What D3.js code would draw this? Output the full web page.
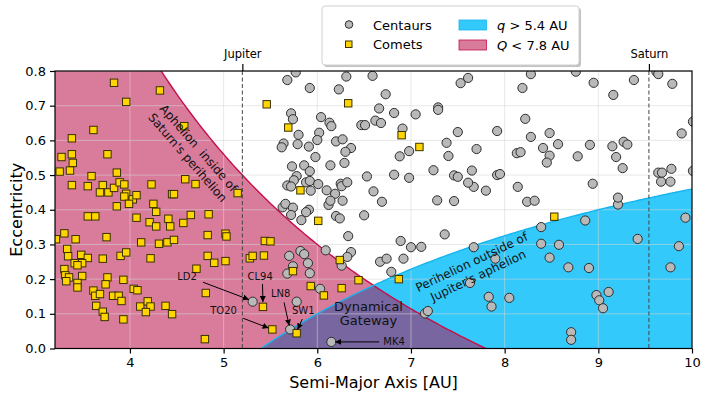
<!DOCTYPE html>
<html><head><meta charset="utf-8">
<script src="https://cdn.jsdelivr.net/npm/d3@7/dist/d3.min.js"></script>
<style>
html,body{margin:0;padding:0;background:#fff;}
text{font-family:"DejaVu Sans",sans-serif;white-space:pre;}
</style></head>
<body><svg id="c" width="707" height="397"></svg>
<script>
// ---------- data ----------
const xTicks = [4,5,6,7,8,9,10];
const yTicks = [0.0,0.1,0.2,0.3,0.4,0.5,0.6,0.7,0.8];
const planetNames = ["Jupiter","Saturn"];
const planetA = [5.2, 9.54];
const qLimit = 5.4;   // perihelion threshold (AU)
const QLimit = 7.8;   // aphelion threshold (AU)

const comets = [
[3.83,0.766],[4.32,0.744],[3.96,0.711],[3.61,0.630],[3.38,0.606],[4.58,0.641],[3.27,0.552],[3.38,0.560],
[3.76,0.560],[3.39,0.535],[3.25,0.510],[3.36,0.513],[3.59,0.497],[3.86,0.507],[3.38,0.471],[3.55,0.468],
[3.71,0.471],[3.68,0.450],[3.77,0.450],[3.83,0.463],[3.89,0.479],[3.94,0.473],[3.96,0.446],[3.94,0.438],
[4.03,0.430],[4.07,0.442],[3.99,0.417],[4.23,0.473],[4.25,0.417],[3.86,0.410],[4.28,0.394],[4.59,0.488],
[4.70,0.474],[4.45,0.445],[4.47,0.445],[5.15,0.448],[5.46,0.704],[3.55,0.381],[3.63,0.381],[4.07,0.377],
[4.21,0.364],[4.41,0.374],[4.28,0.352],[4.43,0.352],[4.57,0.362],[4.65,0.385],[4.84,0.387],[3.21,0.315],
[3.30,0.332],[3.42,0.315],[3.75,0.321],[4.12,0.306],[4.31,0.302],[4.40,0.306],[4.47,0.313],[4.83,0.327],
[5.02,0.331],[5.03,0.323],[5.44,0.310],[5.50,0.309],[3.33,0.287],[3.34,0.266],[3.48,0.270],[3.55,0.261],
[3.71,0.259],[3.90,0.267],[3.96,0.277],[4.22,0.260],[4.83,0.267],[4.90,0.247],[5.02,0.252],[5.28,0.260],
[5.31,0.267],[5.43,0.268],[3.30,0.229],[3.41,0.246],[3.49,0.246],[3.44,0.240],[3.31,0.211],[3.35,0.205],
[3.32,0.194],[3.49,0.209],[3.44,0.189],[3.44,0.176],[3.76,0.205],[3.74,0.185],[3.93,0.198],[4.71,0.230],
[3.61,0.167],[3.63,0.152],[3.68,0.157],[3.82,0.152],[3.88,0.152],[3.91,0.137],[4.04,0.172],[4.08,0.168],
[4.81,0.160],[3.64,0.123],[3.71,0.106],[3.73,0.091],[3.93,0.084],[4.11,0.121],[4.19,0.136],[4.22,0.121],
[4.17,0.105],[4.38,0.123],[4.45,0.099],[4.80,0.027],[5.42,0.120],[5.52,0.055],[5.78,0.044],[6.01,0.368],
[6.24,0.255],[5.74,0.223],[5.93,0.180],[6.07,0.153],[6.26,0.174],[6.44,0.197],[6.87,0.200],[8.53,0.380],
[6.33,0.707],[5.69,0.637],[6.90,0.615],[7.09,0.581],[5.82,0.456]
];

const centaurs = [
[5.31,0.135],[5.71,0.055],[5.78,0.135],[6.15,0.019],[5.63,0.407],[5.66,0.417],[5.74,0.406],[5.91,0.400],
[5.88,0.393],[5.72,0.385],[5.83,0.370],[6.12,0.414],[6.20,0.382],[6.24,0.375],[6.50,0.384],[6.33,0.324],
[6.89,0.310],[7.00,0.292],[7.11,0.293],[7.36,0.329],[7.67,0.292],[5.82,0.281],[5.86,0.272],[5.70,0.267],
[6.09,0.283],[6.36,0.278],[6.32,0.264],[6.26,0.239],[5.90,0.246],[5.74,0.237],[5.68,0.216],[5.92,0.217],
[6.67,0.250],[6.74,0.259],[6.92,0.259],[6.79,0.221],[6.03,0.172],[7.15,0.101],[7.18,0.108],[7.63,0.189],
[9.21,0.415],[8.86,0.369],[8.39,0.350],[9.93,0.377],[9.42,0.316],[8.39,0.302],[8.58,0.299],[8.48,0.262],
[7.90,0.259],[8.68,0.234],[8.90,0.232],[9.86,0.295],[9.77,0.234],[7.83,0.149],[7.86,0.121],[8.05,0.146],
[8.98,0.154],[9.01,0.139],[9.05,0.116],[9.11,0.163],[8.71,0.047],[8.71,0.025],[9.21,0.435],[6.60,0.453],
[6.69,0.423],[7.28,0.427],[7.46,0.425],[8.24,0.423],[8.32,0.426],[7.80,0.455],[8.14,0.466],[7.67,0.466],
[7.61,0.478],[8.94,0.475],[9.67,0.481],[9.77,0.481],[9.64,0.507],[9.68,0.507],[9.78,0.518],[10.01,0.512],
[10.01,0.654],[7.92,0.500],[7.95,0.503],[7.65,0.513],[7.46,0.499],[7.50,0.495],[7.24,0.514],[6.98,0.492],
[6.82,0.501],[6.53,0.496],[9.26,0.520],[9.19,0.552],[9.15,0.583],[9.27,0.596],[9.31,0.588],[8.91,0.587],
[8.78,0.554],[8.57,0.589],[8.41,0.578],[8.48,0.556],[8.45,0.536],[8.13,0.563],[8.17,0.566],[8.28,0.610],
[8.48,0.621],[8.22,0.662],[7.92,0.627],[7.70,0.575],[7.40,0.555],[7.38,0.593],[6.98,0.569],[6.88,0.554],
[6.91,0.634],[7.50,0.624],[7.05,0.675],[6.82,0.679],[6.66,0.692],[7.29,0.695],[7.29,0.688],[6.47,0.644],
[6.51,0.644],[6.62,0.657],[6.68,0.650],[6.73,0.733],[6.59,0.786],[6.31,0.784],[6.23,0.747],[5.92,0.751],
[5.77,0.796],[5.68,0.774],[7.53,0.765],[7.61,0.780],[8.28,0.791],[8.19,0.751],[8.76,0.798],[8.95,0.766],
[9.16,0.731],[9.38,0.774],[9.62,0.798],[9.64,0.791],[9.79,0.763],[9.89,0.620],[5.72,0.678],[5.74,0.661],
[6.04,0.667],[6.13,0.651],[6.15,0.641],[6.02,0.622],[5.80,0.616],[6.00,0.601],[5.64,0.591],[5.62,0.580],
[5.79,0.589],[5.91,0.582],[6.20,0.597],[6.27,0.603],[6.36,0.578],[6.30,0.567],[5.98,0.552],[5.73,0.525],
[5.86,0.528],[5.92,0.511],[6.14,0.528],[6.29,0.535],[5.78,0.497],[5.75,0.485],[5.68,0.470],[5.72,0.467],
[5.88,0.479],[5.92,0.483],[6.01,0.474],[5.93,0.455],[6.10,0.456],[6.19,0.446],[6.25,0.475],[6.26,0.468],
[6.32,0.479],[6.14,0.426],[6.27,0.426]
];

// annotation labels: name, label position (a,e), arrow start (a,e), arrow end (a,e)
const annNames = ["LD2","CL94","TO20","LN8","SW1","MK4"];
const annText  = [[4.61,0.209],[5.39,0.209],[5.00,0.109],[5.61,0.159],[5.85,0.109],[6.82,0.019]];
const annFrom  = [[4.78,0.191],[5.415,0.186],[5.21,0.087],[5.645,0.133],[5.84,0.085],[6.66,0.019]];
const annTo    = [[5.27,0.141],[5.42,0.134],[5.48,0.059],[5.70,0.066],[5.79,0.055],[6.19,0.019]];

// ---------- layout ----------
const L=55,R=692,T=71,B=348.5;
const svg=d3.select("#c");
const x=d3.scaleLinear().domain([3.2,10]).range([L,R]);
const y=d3.scaleLinear().domain([0,0.8]).range([B,T]);

const PINK="#d97c9b", BLUE="#33c9fb", PURPLE="#77669f";
const PINK_EDGE="#c4104a", BLUE_EDGE="#16b4ef";

const defs=svg.append("defs");
defs.append("clipPath").attr("id","plotclip")
  .append("rect").attr("x",L).attr("y",T).attr("width",R-L).attr("height",B-T);
defs.append("marker").attr("id","arr").attr("viewBox","0 0 10 10")
  .attr("refX",10).attr("refY",5).attr("markerWidth",6).attr("markerHeight",6)
  .attr("orient","auto").attr("markerUnits","userSpaceOnUse")
  .append("path").attr("d","M0,0L10,5L0,10z").attr("fill","#000");

const g=svg.append("g").attr("clip-path","url(#plotclip)");

// regions
const Qcurve=a=>QLimit/a-1, qcurve=a=>1-qLimit/a;
const aGrid=d3.range(3.2,10.0001,0.02);
const pinkPts=aGrid.filter(a=>a<=QLimit).map(a=>[a,Math.min(0.85,Qcurve(a))]).concat([[QLimit,0]]);
const area=d3.area().x(d=>x(d[0])).y0(y(0)).y1(d=>y(d[1]));
g.append("path").datum(pinkPts).attr("d",area).attr("fill",PINK);
const bluePts=[[qLimit,0]].concat(aGrid.filter(a=>a>=qLimit).map(a=>[a,qcurve(a)]));
g.append("path").datum(bluePts).attr("d",area).attr("fill",BLUE);
const ovPts=[[qLimit,0]].concat(aGrid.filter(a=>a>=qLimit&&a<=QLimit).map(a=>[a,Math.min(qcurve(a),Qcurve(a))])).concat([[QLimit,0]]);
g.append("path").datum(ovPts).attr("d",area).attr("fill",PURPLE);

// grid
const grid=g.append("g").attr("stroke","#d6d6d6").attr("stroke-opacity",0.55).attr("stroke-width",1);
xTicks.forEach(t=>grid.append("line").attr("x1",x(t)).attr("x2",x(t)).attr("y1",T).attr("y2",B));
yTicks.forEach(t=>grid.append("line").attr("y1",y(t)).attr("y2",y(t)).attr("x1",L).attr("x2",R));

// boundary lines
const line=d3.line().x(d=>x(d[0])).y(d=>y(d[1]));
g.append("path").datum(aGrid.filter(a=>a<=QLimit+0.001).map(a=>[a,Qcurve(a)])).attr("d",line)
  .attr("fill","none").attr("stroke",PINK_EDGE).attr("stroke-width",1.4);
g.append("path").datum(aGrid.filter(a=>a>=qLimit).map(a=>[a,qcurve(a)])).attr("d",line)
  .attr("fill","none").attr("stroke",BLUE_EDGE).attr("stroke-width",1.4);

// planet dashed lines
planetA.forEach(a=>{
  g.append("line").attr("x1",x(a)).attr("x2",x(a)).attr("y1",T).attr("y2",B)
   .attr("stroke","#444").attr("stroke-width",1).attr("stroke-dasharray","4,2.5");
});

// points
g.append("g").selectAll("circle").data(centaurs).join("circle")
  .attr("cx",d=>x(d[0])).attr("cy",d=>y(d[1])).attr("r",4.6)
  .attr("fill","#b9b9b9").attr("stroke","#2e2e2e").attr("stroke-width",1);
const s=7.4;
g.append("g").selectAll("rect").data(comets).join("rect")
  .attr("x",d=>x(d[0])-s/2).attr("y",d=>y(d[1])-s/2).attr("width",s).attr("height",s)
  .attr("fill","#ffd500").attr("stroke","#3a3000").attr("stroke-width",1);

// region texts
const tg=svg.append("g");
function twoLine(cx,cy,rot,l1,l2,fs,lh){
  const t=tg.append("g").attr("transform",`translate(${cx},${cy}) rotate(${rot})`);
  t.append("text").attr("x",0).attr("y",-lh/2).attr("text-anchor","middle").attr("dominant-baseline","central")
   .attr("font-size",fs).attr("fill","#111").text(l1);
  t.append("text").attr("x",0).attr("y",lh/2).attr("text-anchor","middle").attr("dominant-baseline","central")
   .attr("font-size",fs).attr("fill","#111").text(l2);
}
twoLine(193,153,49,"Aphelion  inside of","Saturn's perihelion",12,14.5);
twoLine(475,269,-25.5,"Perihelion outside of","Jupiter's aphelion",12,15);
twoLine(368.5,313.5,0,"Dynamical","Gateway",13,14.5);

// annotations
annNames.forEach((n,i)=>{
  svg.append("line").attr("x1",x(annFrom[i][0])).attr("y1",y(annFrom[i][1]))
    .attr("x2",x(annTo[i][0])).attr("y2",y(annTo[i][1]))
    .attr("stroke","#000").attr("stroke-width",1).attr("marker-end","url(#arr)");
  svg.append("text").attr("x",x(annText[i][0])).attr("y",y(annText[i][1]))
    .attr("text-anchor","middle").attr("dominant-baseline","central")
    .attr("font-size",10).attr("fill","#111").text(n);
});

// frame
svg.append("rect").attr("x",L).attr("y",T).attr("width",R-L).attr("height",B-T)
  .attr("fill","none").attr("stroke","#000").attr("stroke-width",1.2);

// axes
const xAxis=d3.axisBottom(x).tickValues(xTicks).tickFormat(d3.format("d")).tickSize(5).tickPadding(4);
const ax=svg.append("g").attr("transform",`translate(0,${B})`).call(xAxis);
ax.select(".domain").remove();
ax.selectAll("line").attr("stroke","#000").attr("stroke-width",1.2);
ax.selectAll("text").attr("font-size",13).attr("fill","#000").attr("font-family","DejaVu Sans");
const yAxis=d3.axisLeft(y).tickValues(yTicks).tickFormat(d3.format(".1f")).tickSize(5).tickPadding(4);
const ay=svg.append("g").attr("transform",`translate(${L},0)`).call(yAxis);
ay.select(".domain").remove();
ay.selectAll("line").attr("stroke","#000").attr("stroke-width",1.2);
ay.selectAll("text").attr("font-size",13).attr("fill","#000").attr("font-family","DejaVu Sans");

// top planet ticks
const topAxis=d3.axisTop(x).tickValues(planetA).tickFormat((d,i)=>planetNames[i]).tickSize(7).tickPadding(6);
const at=svg.append("g").attr("transform",`translate(0,${T})`).call(topAxis);
at.select(".domain").remove();
at.selectAll("line").attr("stroke","#000").attr("stroke-width",1.2);
at.selectAll("text").attr("font-size",11.5).attr("fill","#000").attr("font-family","DejaVu Sans");

// axis titles
svg.append("text").attr("x",(L+R)/2).attr("y",388).attr("text-anchor","middle")
  .attr("font-size",16).attr("fill","#000").text("Semi-Major Axis [AU]");
svg.append("text").attr("transform",`translate(16,${(T+B)/2}) rotate(-90)`).attr("text-anchor","middle")
  .attr("dominant-baseline","central").attr("font-size",16).attr("fill","#000").text("Eccentricity");

// legend
const lg=svg.append("g");
lg.append("rect").attr("x",324).attr("y",8).attr("width",257).attr("height",59).attr("rx",3)
  .attr("fill","#9a9a9a").attr("opacity",0.6);
lg.append("rect").attr("x",322).attr("y",6).attr("width",257).attr("height",59).attr("rx",3)
  .attr("fill","#fff").attr("stroke","#cfcfcf").attr("stroke-width",1);
lg.append("circle").attr("cx",349).attr("cy",24.5).attr("r",3.8).attr("fill","#b9b9b9").attr("stroke","#2e2e2e");
lg.append("rect").attr("x",345.5).attr("y",41).attr("width",6.5).attr("height",6.5).attr("fill","#ffd500").attr("stroke","#3a3000");
lg.append("text").attr("x",373).attr("y",25).attr("dominant-baseline","central").attr("font-size",13).text("Centaurs");
lg.append("text").attr("x",373).attr("y",44.5).attr("dominant-baseline","central").attr("font-size",13).text("Comets");
lg.append("rect").attr("x",459).attr("y",20).attr("width",27.5).attr("height",10).attr("fill",BLUE).attr("stroke",BLUE_EDGE).attr("stroke-width",0.8);
lg.append("rect").attr("x",459).attr("y",40).attr("width",27.5).attr("height",10).attr("fill",PINK).attr("stroke",PINK_EDGE).attr("stroke-width",0.8);
const t1=lg.append("text").attr("x",497).attr("y",25).attr("dominant-baseline","central").attr("font-size",13);
t1.append("tspan").attr("font-style","italic").text("q");
t1.append("tspan").text(" > "+qLimit+" AU");
const t2=lg.append("text").attr("x",497).attr("y",44.5).attr("dominant-baseline","central").attr("font-size",13);
t2.append("tspan").attr("font-style","italic").text("Q");
t2.append("tspan").text(" < "+QLimit+" AU");
</script></body></html>
